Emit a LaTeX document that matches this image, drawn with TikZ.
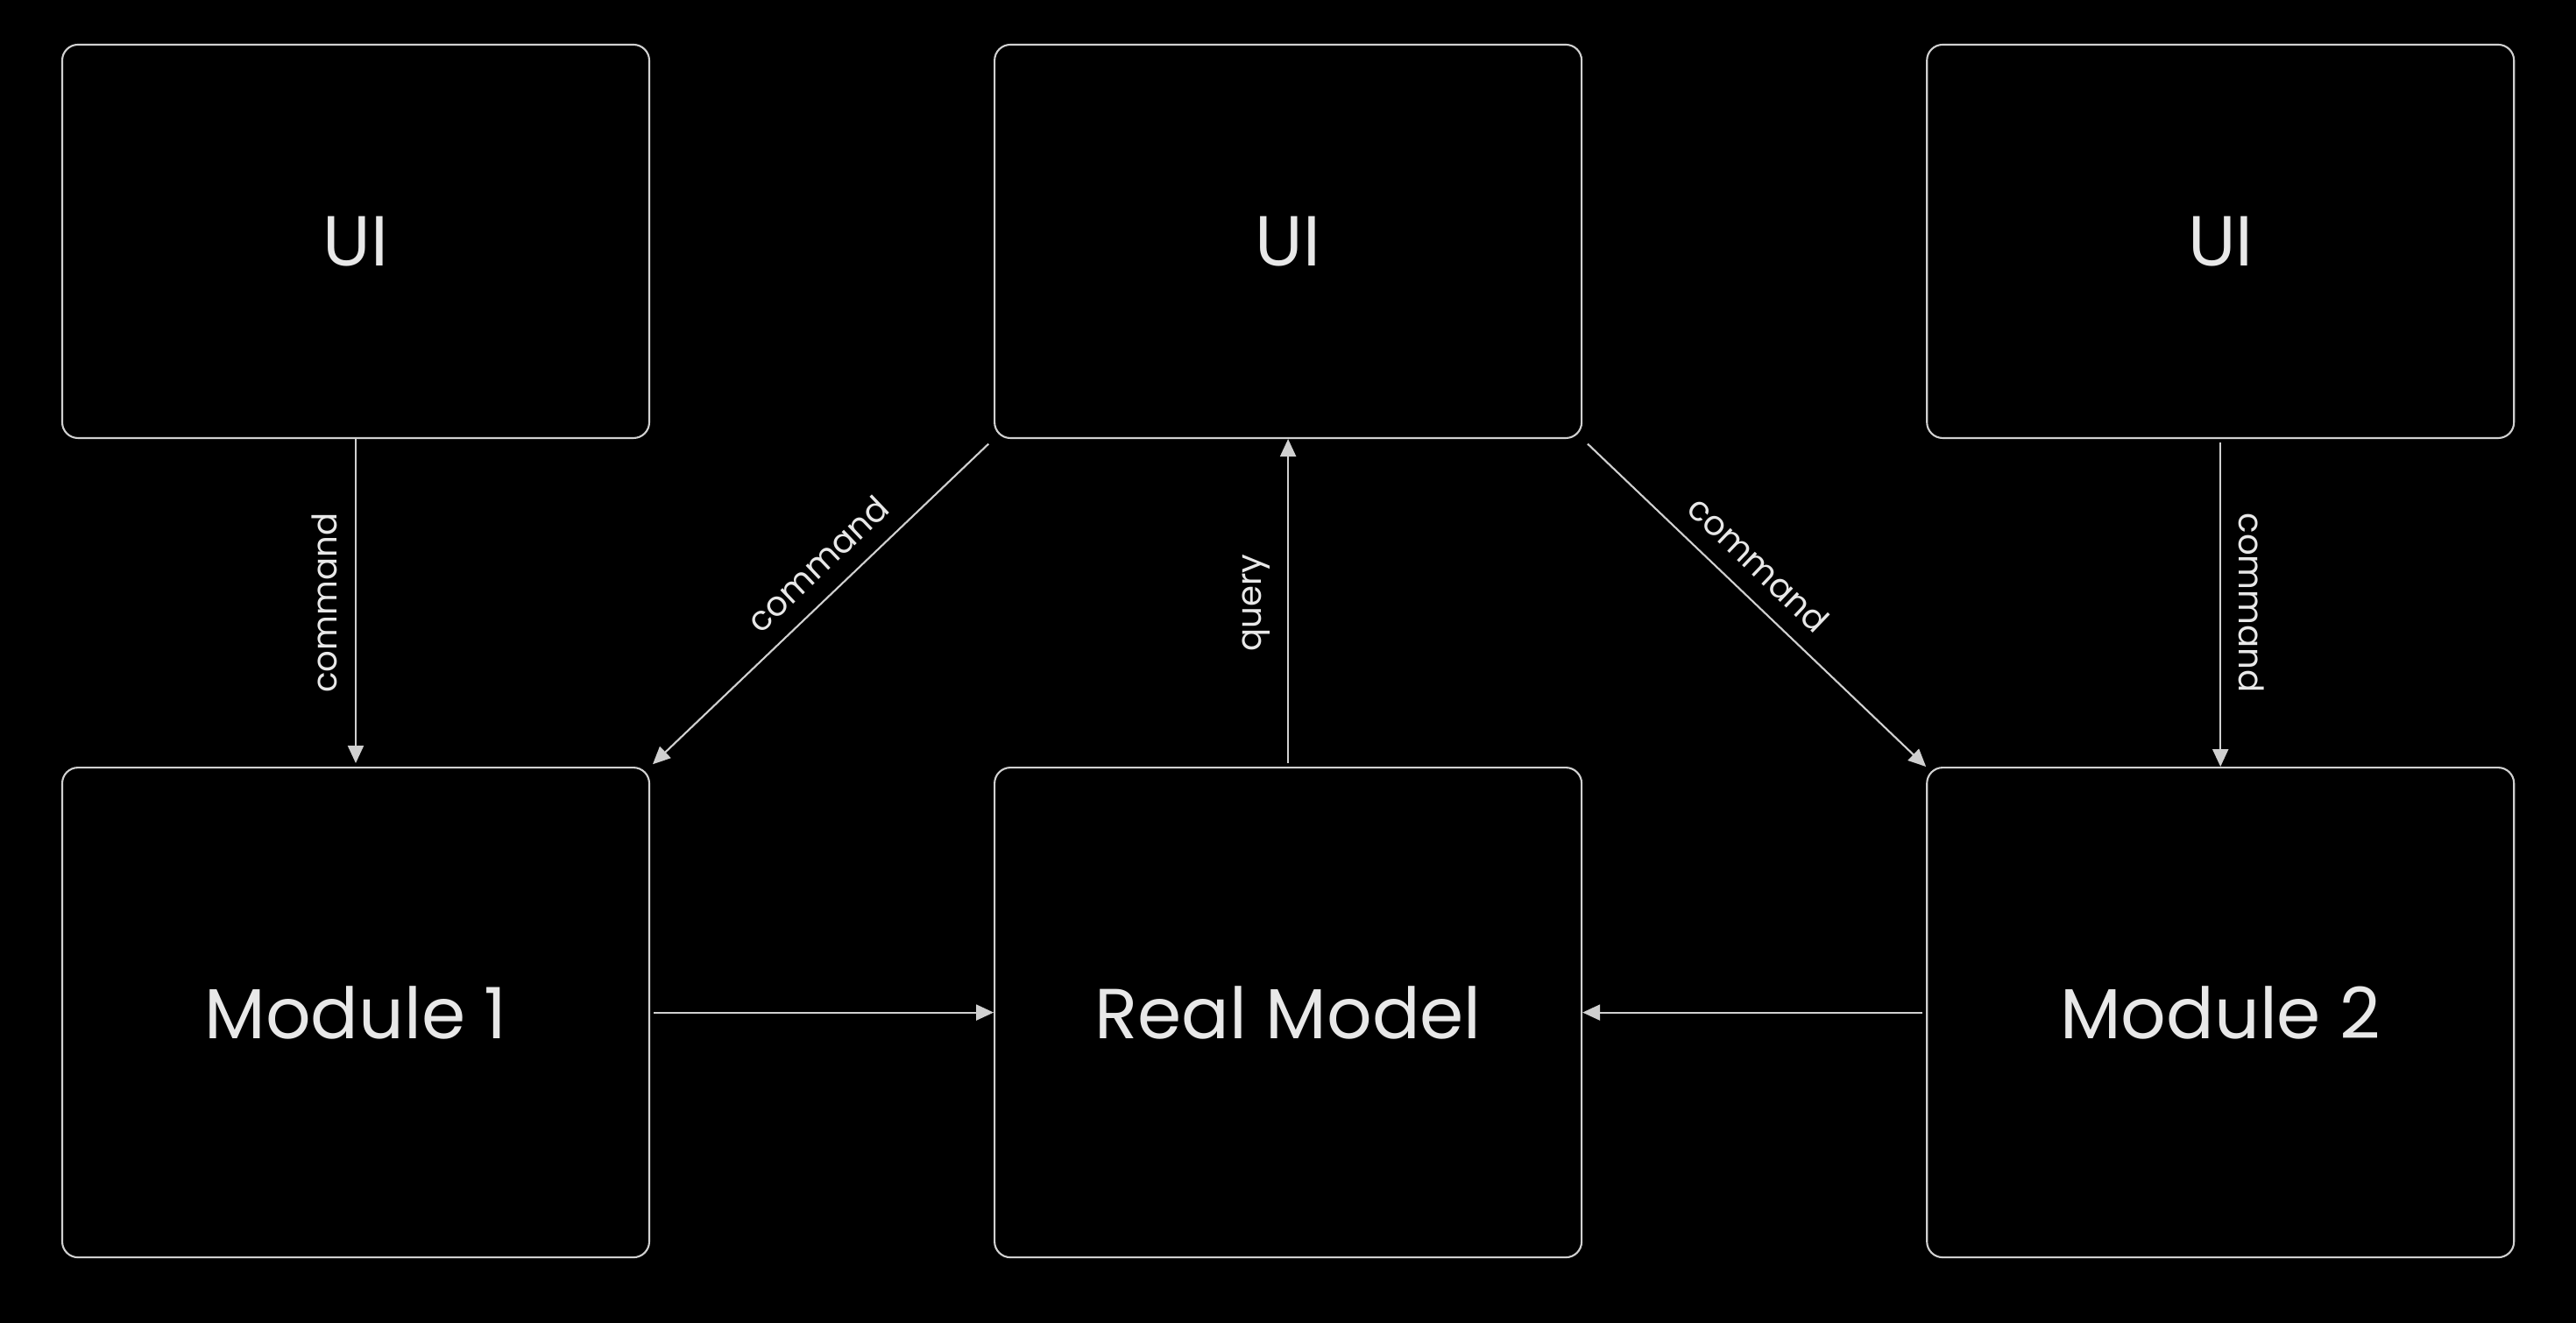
\documentclass[tikz,border=0pt]{standalone}
\usepackage{fontspec}
\setmainfont{Poppins}
\usetikzlibrary{positioning, arrows.meta}
\definecolor{edgegray}{HTML}{D0D0D0}
\definecolor{textgray}{HTML}{E8E8E8}

\begin{document}
\begin{tikzpicture}[
>={Triangle[length=0.2cm,width=0.18cm]},
node distance=3.74cm and 3.92cm,
uibox/.style={draw=edgegray,line width=0.6pt,rounded corners=0.18cm,minimum width=6.7cm,minimum height=4.49cm,text=textgray,font=\fontsize{23}{27}\selectfont},
modbox/.style={uibox,minimum height=5.59cm},
link/.style={draw=edgegray,line width=0.6pt,->,shorten <=0.04cm},
lbl/.style={text=textgray,font=\fontsize{11}{13}\selectfont,sloped,above,inner sep=0.2cm}
]
\fill[black] (0,0) rectangle (29.4,15.1);
\useasboundingbox (0,0) rectangle (29.4,15.1);
\node[uibox] (ui1) at (4.06,12.345) {UI};
\node[uibox,right=of ui1] (ui2) {UI};
\node[uibox,right=of ui2] (ui3) {UI};
\node[modbox,below=of ui1] (mod1) {Module 1};
\node[modbox,below=of ui2] (model) {Real Model};
\node[modbox,below=of ui3] (mod2) {Module 2};
\path[link,<-] (mod1.north) -- node[lbl,midway] {command} (ui1.south);
\path[link,<-,shorten >=0.08cm] (mod1.north east) -- node[lbl,pos=0.55] {command} (ui2.south west);
\path[link] (model.north) -- node[lbl,midway] {query} (ui2.south);
\path[link,shorten <=0.08cm] (ui2.south east) -- node[lbl,pos=0.45] {command} (mod2.north west);
\path[link] (ui3.south) -- node[lbl,midway,allow upside down] {command} (mod2.north);
\path[link] (mod1.east) -- (model.west);
\path[link] (mod2.west) -- (model.east);
\end{tikzpicture}
\end{document}
